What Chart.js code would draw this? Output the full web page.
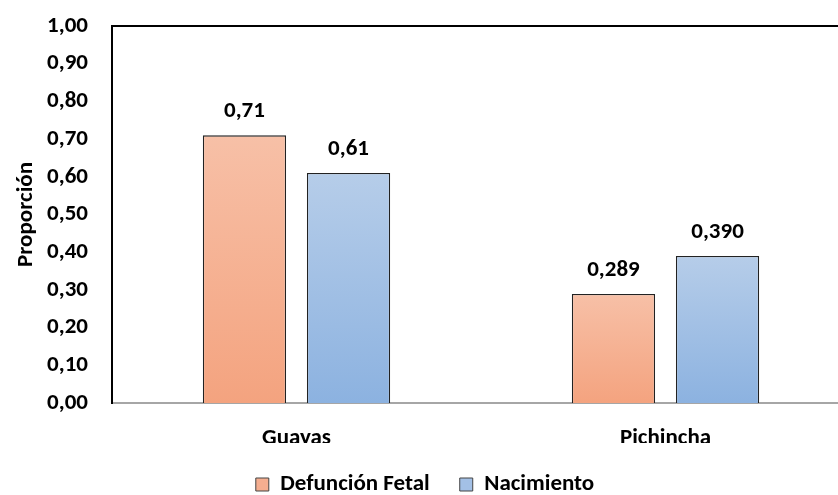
<!DOCTYPE html>
<html>
<head>
<meta charset="utf-8">
<script src="https://cdn.jsdelivr.net/npm/chart.js@4"></script>
<style>
    html, body { margin: 0; padding: 0; background: #fff; overflow: hidden; }
    #wrap { width: 850px; height: 495px; }
</style>
</head>
<body>
<div id="wrap"><canvas id="chart"></canvas></div>
<script>
// Chart data
const categories = ['Guayas', 'Pichincha'];
const defuncionFetal = [0.71, 0.289];
const nacimiento = [0.61, 0.390];
const valueLabels = [['0,71', '0,289'], ['0,61', '0,390']];
const yTicks = [0, 0.1, 0.2, 0.3, 0.4, 0.5, 0.6, 0.7, 0.8, 0.9, 1.0];

const FONT = 'Carlito, Lato, "Liberation Sans", sans-serif';
const FS = 23;

// Vertical gradient per bar (lighter at top)
function barGradient(topColor, bottomColor) {
    return (context) => {
        const chart = context.chart;
        if (!chart.chartArea || context.parsed === undefined) return bottomColor;
        const y = chart.scales.y;
        const top = y.getPixelForValue(context.parsed.y);
        const base = y.getPixelForValue(0);
        if (!isFinite(top) || !isFinite(base) || top === base) return bottomColor;
        const g = chart.ctx.createLinearGradient(0, top, 0, base);
        g.addColorStop(0, topColor);
        g.addColorStop(1, bottomColor);
        return g;
    };
}

// Frame lines + value labels
const extras = {
    id: 'extras',
    afterDatasetsDraw(chart) {
        const { ctx, chartArea } = chart;
        ctx.save();
        // top border
        ctx.strokeStyle = '#000';
        ctx.lineWidth = 2;
        ctx.beginPath();
        ctx.moveTo(chartArea.left - 1, chartArea.top);
        ctx.lineTo(chartArea.right, chartArea.top);
        ctx.stroke();

        // value labels
        ctx.font = 'bold ' + FS + 'px ' + FONT;
        ctx.fillStyle = '#000';
        ctx.textAlign = 'center';
        ctx.textBaseline = 'middle';
        chart.data.datasets.forEach((ds, di) => {
            chart.getDatasetMeta(di).data.forEach((bar, i) => {
                ctx.fillText(valueLabels[di][i], bar.x, bar.y - 24);
            });
        });
        ctx.restore();
    }
};

const ctx = document.getElementById('chart').getContext('2d');
new Chart(ctx, {
    type: 'bar',
    data: {
        labels: categories,
        datasets: [
            {
                label: 'Defunción Fetal',
                data: defuncionFetal,
                backgroundColor: barGradient('#f7c0a7', '#f4a37f'),
                borderColor: '#222',
                borderWidth: 1.3,
                borderSkipped: 'bottom'
            },
            {
                label: 'Nacimiento',
                data: nacimiento,
                backgroundColor: barGradient('#b6cde9', '#8cb2e0'),
                borderColor: '#222',
                borderWidth: 1.3,
                borderSkipped: 'bottom'
            }
        ]
    },
    options: {
        responsive: true,
        maintainAspectRatio: false,
        animation: false,
        categoryPercentage: 0.564,
        barPercentage: 0.8,
        layout: { padding: 0 },
        plugins: {
            tooltip: { enabled: false },
            legend: {
                position: 'bottom',
                maxHeight: 52,
                labels: {
                    color: '#000',
                    font: { family: FONT, size: FS, weight: 'bold' },
                    boxWidth: 13,
                    boxHeight: 13,
                    padding: 30,
                    generateLabels(chart) {
                        const fills = ['#f5ae90', '#a3c0e6'];
                        return chart.data.datasets.map((ds, i) => ({
                            text: ds.label,
                            fillStyle: fills[i],
                            strokeStyle: '#444',
                            lineWidth: 1,
                            datasetIndex: i,
                            hidden: false
                        }));
                    }
                }
            }
        },
        scales: {
            x: {
                grid: { display: false, drawTicks: false },
                border: { color: '#a6a6a6', width: 2 },
                ticks: {
                    color: '#000',
                    padding: 21,
                    font: { family: FONT, size: FS, weight: 'bold' }
                },
                afterFit(scale) { scale.height = 40; }
            },
            y: {
                min: 0,
                max: 1,
                afterBuildTicks(scale) { scale.ticks = yTicks.map(v => ({ value: v })); },
                grid: { display: false, drawTicks: false },
                border: { color: '#000', width: 2 },
                ticks: {
                    color: '#000',
                    padding: 24,
                    font: { family: FONT, size: FS, weight: 'bold' },
                    callback: (v) => Number(v).toFixed(2).replace('.', ',')
                },
                title: {
                    display: true,
                    text: 'Proporción',
                    color: '#000',
                    font: { family: FONT, size: FS, weight: 'bold' },
                    padding: { top: 12, bottom: 0 }
                },
                afterFit(scale) {
                    scale.width = 112;
                    scale.paddingTop = 26;
                    scale.paddingBottom = 14;
                }
            }
        }
    },
    plugins: [extras]
});
</script>
</body>
</html>
